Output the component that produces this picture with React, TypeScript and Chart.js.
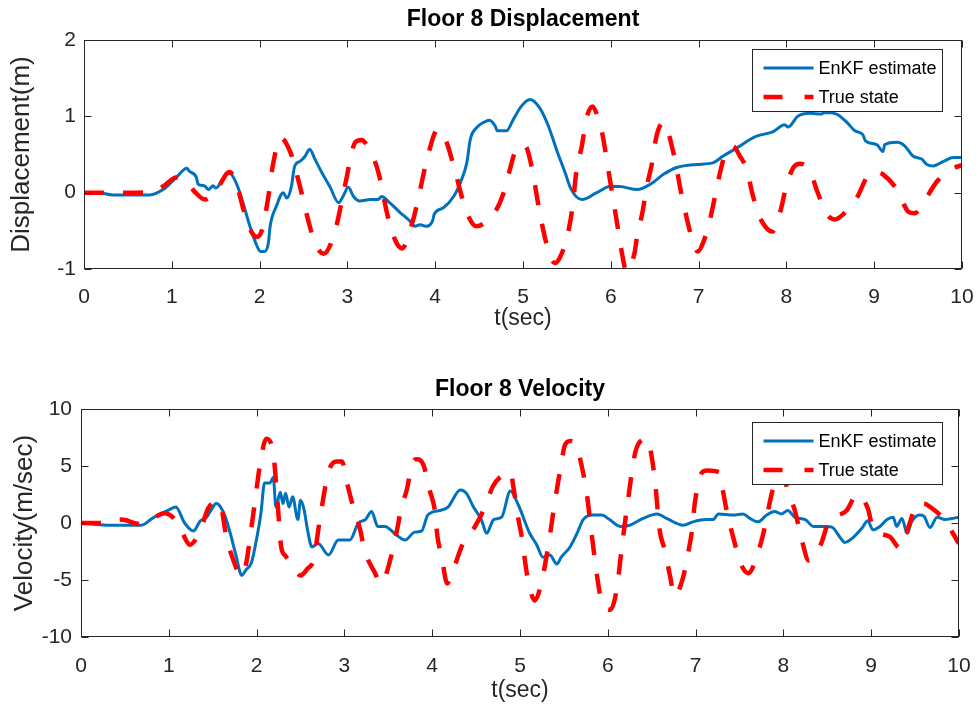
import React, { useEffect, useRef } from 'react';
import { Chart, registerables } from 'chart.js';

Chart.register(...registerables);

const FONT = "'Liberation Sans', Arial, Helvetica, sans-serif";
const BLUE = '#0072BD';
const RED = '#FF0000';
const AXIS = '#262626';

// ---------- Floor 8 Displacement ----------
const tDispEst = [0, 0.15, 0.33, 0.55, 0.75, 0.9, 1.06, 1.17, 1.2, 1.28, 1.3, 1.37, 1.42, 1.47, 1.5, 1.57, 1.64, 1.68, 1.75, 1.81, 1.89, 1.97, 2.01, 2.06, 2.1, 2.12, 2.19, 2.27, 2.31, 2.36, 2.4, 2.46, 2.52, 2.57, 2.63, 2.71, 2.8, 2.9, 2.95, 3.01, 3.07, 3.14, 3.26, 3.35, 3.39, 3.48, 3.6, 3.71, 3.77, 3.83, 3.89, 3.97, 3.99, 4.09, 4.21, 4.3, 4.36, 4.4, 4.47, 4.55, 4.62, 4.68, 4.71, 4.81, 4.89, 4.98, 5.08, 5.19, 5.29, 5.38, 5.48, 5.55, 5.67, 5.84, 5.99, 6.1, 6.3, 6.45, 6.6, 6.75, 6.98, 7.16, 7.28, 7.44, 7.59, 7.66, 7.85, 7.98, 8.02, 8.13, 8.27, 8.4, 8.43, 8.57, 8.69, 8.78, 8.87, 8.9, 9.03, 9.1, 9.12, 9.26, 9.35, 9.44, 9.54, 9.6, 9.67, 9.79, 9.9, 10.0];
const dispEst = [0, 0.0, -0.03, -0.03, -0.03, 0.04, 0.21, 0.32, 0.28, 0.2, 0.11, 0.09, 0.04, 0.09, 0.06, 0.15, 0.26, 0.24, 0.08, -0.13, -0.44, -0.7, -0.77, -0.77, -0.66, -0.44, -0.18, 0.0, -0.07, 0.07, 0.35, 0.41, 0.48, 0.57, 0.44, 0.26, 0.08, -0.13, -0.05, 0.07, -0.05, -0.11, -0.09, -0.09, -0.05, -0.13, -0.26, -0.37, -0.44, -0.42, -0.44, -0.37, -0.28, -0.2, -0.05, 0.17, 0.39, 0.7, 0.85, 0.92, 0.95, 0.88, 0.81, 0.81, 0.96, 1.13, 1.22, 1.11, 0.87, 0.57, 0.26, 0.04, -0.09, 0.0, 0.08, 0.08, 0.04, 0.11, 0.24, 0.33, 0.37, 0.39, 0.48, 0.59, 0.7, 0.74, 0.8, 0.89, 0.86, 1.0, 1.04, 1.03, 1.05, 1.03, 0.92, 0.81, 0.76, 0.68, 0.63, 0.54, 0.63, 0.66, 0.61, 0.48, 0.44, 0.37, 0.35, 0.41, 0.46, 0.46];

const tDispTrue = [0, 0.3, 0.6, 0.75, 0.9, 1.05, 1.15, 1.27, 1.38, 1.5, 1.66, 1.75, 1.83, 1.91, 1.97, 2.03, 2.1, 2.15, 2.24, 2.35, 2.44, 2.56, 2.63, 2.73, 2.86, 2.97, 3.09, 3.16, 3.26, 3.35, 3.46, 3.54, 3.62, 3.75, 3.81, 3.92, 4.03, 4.13, 4.21, 4.36, 4.47, 4.58, 4.68, 4.78, 4.85, 4.91, 4.98, 5.04, 5.1, 5.19, 5.25, 5.31, 5.37, 5.42, 5.5, 5.56, 5.61, 5.67, 5.72, 5.79, 5.85, 5.9, 5.99, 6.07, 6.12, 6.18, 6.27, 6.3, 6.36, 6.41, 6.47, 6.52, 6.6, 6.71, 6.81, 6.94, 6.99, 7.05, 7.13, 7.24, 7.3, 7.39, 7.47, 7.55, 7.61, 7.68, 7.77, 7.84, 7.93, 8.0, 8.08, 8.15, 8.27, 8.35, 8.46, 8.55, 8.65, 8.81, 8.92, 9.0, 9.1, 9.26, 9.39, 9.46, 9.56, 9.71, 9.86, 10.0];
const dispTrue = [0, 0, 0, 0.01, 0.08, 0.2, 0.17, 0.0, -0.09, 0.02, 0.27, 0.06, -0.28, -0.52, -0.58, -0.48, -0.05, 0.35, 0.72, 0.53, 0.17, -0.39, -0.66, -0.8, -0.5, 0.08, 0.66, 0.69, 0.54, 0.28, -0.31, -0.61, -0.73, -0.35, -0.06, 0.5, 0.83, 0.66, 0.35, -0.26, -0.44, -0.38, -0.26, 0.0, 0.3, 0.54, 0.63, 0.59, 0.33, -0.26, -0.59, -0.85, -0.92, -0.85, -0.59, -0.22, 0.3, 0.61, 0.96, 1.13, 1.0, 0.79, 0.17, -0.39, -0.75, -1.03, -0.79, -0.57, -0.26, 0.08, 0.39, 0.74, 0.92, 0.54, -0.05, -0.66, -0.77, -0.66, -0.35, 0.24, 0.5, 0.61, 0.48, 0.3, 0.0, -0.28, -0.46, -0.51, -0.25, 0.09, 0.33, 0.38, 0.28, 0.02, -0.28, -0.35, -0.28, -0.05, 0.21, 0.28, 0.24, 0.04, -0.25, -0.27, -0.13, 0.14, 0.3, 0.36];

// ---------- Floor 8 Velocity ----------
const tVelEst = [0, 0.34, 0.68, 0.82, 0.99, 1.08, 1.18, 1.28, 1.36, 1.43, 1.48, 1.54, 1.57, 1.64, 1.7, 1.77, 1.83, 1.88, 1.94, 1.99, 2.05, 2.09, 2.15, 2.19, 2.22, 2.27, 2.3, 2.33, 2.37, 2.41, 2.47, 2.5, 2.54, 2.58, 2.63, 2.7, 2.82, 2.93, 3.06, 3.16, 3.24, 3.31, 3.38, 3.46, 3.6, 3.69, 3.8, 3.88, 3.95, 4.09, 4.18, 4.32, 4.39, 4.47, 4.56, 4.62, 4.7, 4.79, 4.89, 4.98, 5.11, 5.19, 5.26, 5.34, 5.42, 5.47, 5.57, 5.65, 5.72, 5.83, 5.93, 6.02, 6.14, 6.25, 6.4, 6.56, 6.67, 6.86, 6.97, 7.12, 7.2, 7.26, 7.43, 7.54, 7.62, 7.71, 7.81, 7.9, 7.98, 8.05, 8.13, 8.25, 8.34, 8.49, 8.56, 8.64, 8.7, 8.79, 8.9, 8.96, 9.02, 9.1, 9.18, 9.25, 9.29, 9.35, 9.41, 9.46, 9.55, 9.6, 9.67, 9.75, 9.84, 9.92, 10.0];
const velEst = [0, -0.2, -0.2, 0.45, 1.1, 1.4, 0.0, -0.7, 0.2, 0.5, 1.1, 1.7, 1.6, 0.6, -0.9, -3.0, -4.6, -4.1, -3.5, -1.8, 0.9, 3.5, 3.5, 4.0, 1.4, 2.7, 1.7, 2.6, 1.4, 2.3, 0.3, 2.0, 1.2, -0.6, -2.1, -1.8, -2.8, -1.5, -1.5, 0.0, 0.3, 1.0, -0.3, -0.3, -1.1, -1.5, -0.8, -0.7, 0.7, 1.1, 1.4, 2.9, 2.6, 1.4, 0.3, -0.9, 0.3, 0.5, 2.8, 1.6, -0.9, -1.9, -3.0, -2.8, -3.6, -3.0, -2.1, -0.9, 0.3, 0.7, 0.7, 0.3, -0.3, -0.2, 0.4, 0.8, 0.4, -0.2, 0.1, 0.3, 0.3, 0.8, 0.7, 0.8, 0.4, 0.1, 0.7, 1.0, 0.8, 1.1, 0.5, 0.3, -0.3, -0.3, -0.4, -1.2, -1.7, -1.3, -0.4, 0.2, -0.6, -0.3, 0.3, 0.5, -0.3, 0.4, -0.9, 0.1, 0.7, 0.6, -0.4, 0.5, 0.3, 0.4, 0.5];

const tVelTrue = [0, 0.22, 0.46, 0.67, 0.8, 0.95, 1.07, 1.15, 1.24, 1.36, 1.45, 1.54, 1.6, 1.65, 1.71, 1.83, 1.88, 1.93, 1.98, 2.04, 2.11, 2.19, 2.24, 2.28, 2.33, 2.42, 2.5, 2.58, 2.65, 2.72, 2.82, 2.91, 2.97, 3.04, 3.1, 3.18, 3.23, 3.35, 3.41, 3.45, 3.54, 3.6, 3.65, 3.71, 3.78, 3.82, 3.9, 3.97, 4.03, 4.06, 4.11, 4.17, 4.24, 4.35, 4.48, 4.6, 4.69, 4.8, 4.89, 4.93, 4.98, 5.02, 5.08, 5.17, 5.25, 5.32, 5.4, 5.47, 5.51, 5.57, 5.64, 5.7, 5.76, 5.82, 5.89, 5.93, 6.03, 6.1, 6.16, 6.23, 6.31, 6.39, 6.45, 6.5, 6.54, 6.59, 6.65, 6.71, 6.76, 6.86, 6.9, 6.96, 6.99, 7.07, 7.13, 7.28, 7.31, 7.37, 7.43, 7.51, 7.6, 7.73, 7.79, 7.85, 7.9, 7.97, 8.07, 8.13, 8.21, 8.29, 8.43, 8.51, 8.72, 8.84, 8.96, 9.02, 9.21, 9.33, 9.44, 9.52, 9.6, 9.69, 9.82, 10.0];
const velTrue = [0, 0, 0.3, -0.1, 0.3, 0.85, 0.3, -0.8, -1.9, -0.6, 1.3, 1.9, 1.3, -1.0, -2.7, -4.6, -3.6, -1.0, 1.8, 5.2, 7.4, 6.1, 1.7, -2.1, -2.9, -3.8, -4.6, -4.0, -3.2, 0.3, 4.5, 5.4, 5.4, 3.2, 1.4, -0.6, -2.4, -4.4, -5.3, -5.0, -2.7, -0.6, 1.4, 2.9, 5.4, 5.6, 5.1, 2.9, 1.1, -1.2, -3.0, -5.3, -4.1, -1.8, -0.4, 1.4, 3.2, 4.2, 4.5, 2.9, 0.4, -1.2, -4.5, -6.8, -5.0, -2.1, 2.0, 5.2, 6.8, 7.2, 6.8, 5.1, 2.6, -1.2, -5.3, -6.9, -7.6, -5.9, -2.1, 2.0, 6.1, 7.3, 7.4, 5.8, 3.5, -0.6, -2.4, -4.7, -6.4, -4.7, -3.2, -0.6, 1.7, 4.4, 4.6, 4.4, 2.9, 0.5, -1.3, -3.5, -4.4, -2.1, -0.3, 2.0, 3.5, 4.6, 2.3, 1.1, -1.5, -3.3, -1.8, 0.0, 1.1, 2.5, 1.3, -0.4, -1.2, -2.2, 0.0, 1.7, 1.7, 1.3, 0.4, -1.8];

const xTicksStep = 1;
const dispTicks = { min: -1, max: 2, step: 1 };
const velTicks = { min: -10, max: 10, step: 5 };
const seriesLabels = ['EnKF estimate', 'True state'];

const pts = (t: number[], v: number[]) => t.map((x, i) => ({ x, y: v[i] }));

const matlabAxes = {
  id: 'matlabAxes',
  afterDatasetsDraw(chart: any, _args: any, opts: any) {
    const { ctx, chartArea: a, scales } = chart;
    const L = Math.round(a.left) + 0.5;
    const R = Math.round(a.right) - 0.5;
    const T = Math.round(a.top) + 0.5;
    const B = Math.round(a.bottom) - 0.5;
    ctx.save();
    ctx.setLineDash([]);
    ctx.strokeStyle = AXIS;
    ctx.lineWidth = 1;
    const tl = 7;
    ctx.beginPath();
    for (const t of scales.x.ticks) {
      const px = Math.round(scales.x.getPixelForValue(t.value)) + 0.5;
      ctx.moveTo(px, B); ctx.lineTo(px, B - tl);
      ctx.moveTo(px, T); ctx.lineTo(px, T + tl);
    }
    for (const t of scales.y.ticks) {
      const py = Math.round(scales.y.getPixelForValue(t.value)) + 0.5;
      ctx.moveTo(L, py); ctx.lineTo(L + tl, py);
      ctx.moveTo(R, py); ctx.lineTo(R - tl, py);
    }
    ctx.stroke();
    ctx.strokeRect(L, T, R - L, B - T);

    // legend box
    const bw = 190, bh = 62;
    const bx = Math.round(a.right - opts.right - bw) + 0.5;
    const by = Math.round(a.top + opts.top) + 0.5;
    ctx.fillStyle = '#ffffff';
    ctx.fillRect(bx, by, bw, bh);
    ctx.strokeStyle = AXIS;
    ctx.lineWidth = 1;
    ctx.strokeRect(bx, by, bw, bh);
    [0, 1].forEach((di, i) => {
      const ds = chart.data.datasets[di];
      const cy = Math.round(by + 18 + i * 29);
      ctx.beginPath();
      ctx.strokeStyle = ds.borderColor;
      ctx.lineWidth = ds.borderWidth;
      ctx.setLineDash(ds.borderDash && ds.borderDash.length ? [19, 22] : []);
      ctx.moveTo(bx + 11, cy);
      ctx.lineTo(bx + 61, cy);
      ctx.stroke();
      ctx.setLineDash([]);
      ctx.fillStyle = '#000000';
      ctx.font = `18px ${FONT}`;
      ctx.textBaseline = 'middle';
      ctx.textAlign = 'left';
      ctx.fillText(ds.label, bx + 66, cy + 1);
    });
    ctx.restore();
  },
};

function makeConfig(p: {
  title: string; yLabel: string; tEst: number[]; est: number[]; tTrue: number[]; tru: number[];
  yr: { min: number; max: number; step: number }; yWidth: number; xHeight: number;
  titlePad: { top: number; bottom: number }; xTitlePadBottom: number; xTickPad: number; yTickPad: number;
  yTitlePadTop: number; rightPad: number; legendTop: number; legendRight: number;
}): any {
  return {
    type: 'line',
    data: {
      datasets: [
        {
          label: seriesLabels[0],
          data: pts(p.tEst, p.est),
          borderColor: BLUE,
          borderWidth: 3,
          pointRadius: 0,
          fill: false,
          cubicInterpolationMode: 'monotone',
          order: 1,
          clip: 0,
        },
        {
          label: seriesLabels[1],
          data: pts(p.tTrue, p.tru),
          borderColor: RED,
          borderWidth: 4.5,
          borderDash: [20, 19],
          pointRadius: 0,
          fill: false,
          cubicInterpolationMode: 'monotone',
          order: 0,
          clip: 0,
        },
      ],
    },
    options: {
      responsive: false,
      animation: false,
      events: [],
      layout: { padding: { left: 0, right: p.rightPad, top: 0, bottom: 0 } },
      scales: {
        x: {
          type: 'linear',
          min: 0,
          max: 10,
          grid: { display: false, drawTicks: false },
          border: { display: false },
          ticks: {
            stepSize: xTicksStep,
            padding: p.xTickPad,
            color: AXIS,
            maxRotation: 0,
            autoSkip: false,
            font: { family: FONT, size: 21 },
          },
          title: {
            display: true,
            text: 't(sec)',
            color: AXIS,
            font: { family: FONT, size: 23 },
            padding: { top: 0, bottom: p.xTitlePadBottom },
          },
          afterFit: (s: any) => { s.height = p.xHeight; s.paddingLeft = 0; s.paddingRight = 0; },
        },
        y: {
          type: 'linear',
          min: p.yr.min,
          max: p.yr.max,
          grid: { display: false, drawTicks: false },
          border: { display: false },
          ticks: {
            stepSize: p.yr.step,
            padding: p.yTickPad,
            color: AXIS,
            font: { family: FONT, size: 21 },
          },
          title: {
            display: true,
            text: p.yLabel,
            color: AXIS,
            font: { family: FONT, size: 26 },
            padding: { top: p.yTitlePadTop, bottom: 0 },
          },
          afterFit: (s: any) => { s.width = p.yWidth; },
        },
      },
      plugins: {
        legend: { display: false },
        tooltip: { enabled: false },
        title: {
          display: true,
          text: p.title,
          fullSize: false,
          color: '#000000',
          font: { family: FONT, size: 23, weight: 'bold' },
          padding: p.titlePad,
        },
        matlabAxes: { top: p.legendTop, right: p.legendRight },
      },
    },
    plugins: [matlabAxes],
  };
}

export default function App() {
  const ref1 = useRef<HTMLCanvasElement>(null);
  const ref2 = useRef<HTMLCanvasElement>(null);

  useEffect(() => {
    const c1 = new Chart(ref1.current as HTMLCanvasElement, makeConfig({
      title: 'Floor 8 Displacement',
      yLabel: 'Displacement(m)',
      tEst: tDispEst, est: dispEst, tTrue: tDispTrue, tru: dispTrue,
      yr: dispTicks, yWidth: 84, xHeight: 76,
      titlePad: { top: 6, bottom: 6.4 }, xTitlePadBottom: 13, xTickPad: 16, yTickPad: 8,
      yTitlePadTop: 6, rightPad: 17, legendTop: 9, legendRight: 20,
    }));
    const c2 = new Chart(ref2.current as HTMLCanvasElement, makeConfig({
      title: 'Floor 8 Velocity',
      yLabel: 'Velocity(m/sec)',
      tEst: tVelEst, est: velEst, tTrue: tVelTrue, tru: velTrue,
      yr: velTicks, yWidth: 81, xHeight: 70,
      titlePad: { top: 31, bottom: 5.4 }, xTitlePadBottom: 2.5, xTickPad: 16.5, yTickPad: 9,
      yTitlePadTop: 9.5, rightPad: 20, legendTop: 13, legendRight: 17,
    }));
    return () => { c1.destroy(); c2.destroy(); };
  }, []);

  return (
    <div style={{ position: 'absolute', left: 0, top: 0, width: 979, height: 707, background: '#ffffff' }}>
      <canvas ref={ref1} width={979} height={345} style={{ position: 'absolute', left: 0, top: 0, display: 'block' }} />
      <canvas ref={ref2} width={979} height={362} style={{ position: 'absolute', left: 0, top: 345, display: 'block' }} />
    </div>
  );
}
